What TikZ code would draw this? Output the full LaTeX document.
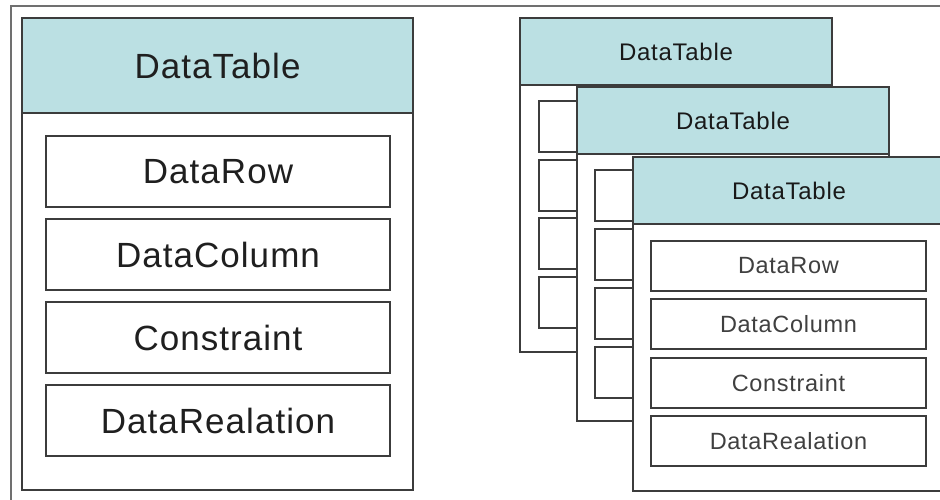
\documentclass[tikz,border=0pt]{standalone}
\usepackage{fontspec}
\setmainfont[LetterSpace=3]{Liberation Sans}
\definecolor{headfill}{HTML}{BBE0E3}
\definecolor{edge}{HTML}{3C3C3C}
\definecolor{framegray}{HTML}{707070}
\begin{document}
\begin{tikzpicture}[x=1pt,y=-1pt,
  box/.style={draw=edge, line width=1.4pt, fill=white, anchor=north west,
              inner sep=0pt, outer sep=0pt},
  body/.style={box},
  head/.style={box, fill=headfill},
  item/.style={box},
  bigtxt/.style={font=\fontsize{35}{40}\selectfont, text=black!88},
  smalltxt/.style={font=\fontsize{24}{28}\selectfont, text=black!90},
  itemtxt/.style={font=\fontsize{23.5}{28}\selectfont, text=black!75},
  frame/.style={draw=framegray, line width=1.8pt, anchor=north west,
                inner sep=0pt, outer sep=0pt}]
\useasboundingbox (0,0) rectangle (940,499);
\clip (0,0) rectangle (940,499);

% page frame (only its top and left sides fall inside the page)
\node[frame, minimum width=1000pt, minimum height=600pt] (frame) at (11,6) {};

% ---- large DataTable on the left ----
\node[body, minimum width=391pt, minimum height=472pt] (L) at (22,18) {};
\node[head, minimum width=391pt, minimum height=95pt, bigtxt] (Lh) at (22,18) {DataTable};
\node[item, minimum width=344pt, minimum height=71pt, bigtxt] (L1) at (46,136) {DataRow};
\node[item, minimum width=344pt, minimum height=71pt, bigtxt] (L2) at (46,219) {DataColumn};
\node[item, minimum width=344pt, minimum height=71pt, bigtxt] (L3) at (46,302) {Constraint};
\node[item, minimum width=344pt, minimum height=71pt, bigtxt] (L4) at (46,385) {DataRealation};

% ---- stack of three DataTables on the right ----
% back table
\node[body, minimum width=312pt, minimum height=334pt] (A) at (520,18) {};
\node[head, minimum width=312pt, minimum height=67pt, smalltxt] (Ah) at (520,18) {DataTable};
\node[item, minimum width=275pt, minimum height=51pt] (A1) at (539,101) {};
\node[item, minimum width=275pt, minimum height=51pt] (A2) at (539,160) {};
\node[item, minimum width=275pt, minimum height=51pt] (A3) at (539,218) {};
\node[item, minimum width=275pt, minimum height=51pt] (A4) at (539,277) {};

% middle table
\node[body, minimum width=312pt, minimum height=334pt] (B) at (577,87) {};
\node[head, minimum width=312pt, minimum height=67pt, smalltxt] (Bh) at (577,87) {DataTable};
\node[item, minimum width=275pt, minimum height=51pt] (B1) at (595,170) {};
\node[item, minimum width=275pt, minimum height=51pt] (B2) at (595,229) {};
\node[item, minimum width=275pt, minimum height=51pt] (B3) at (595,288) {};
\node[item, minimum width=275pt, minimum height=51pt] (B4) at (595,347) {};

% front table
\node[body, minimum width=312pt, minimum height=334pt] (C) at (633,157) {};
\node[head, minimum width=312pt, minimum height=67pt, smalltxt] (Ch) at (633,157) {DataTable};
\node[item, minimum width=275pt, minimum height=50pt, itemtxt] (C1) at (651,241) {DataRow};
\node[item, minimum width=275pt, minimum height=50pt, itemtxt] (C2) at (651,299) {DataColumn};
\node[item, minimum width=275pt, minimum height=50pt, itemtxt] (C3) at (651,358) {Constraint};
\node[item, minimum width=275pt, minimum height=50pt, itemtxt] (C4) at (651,416) {DataRealation};
\end{tikzpicture}
\end{document}
